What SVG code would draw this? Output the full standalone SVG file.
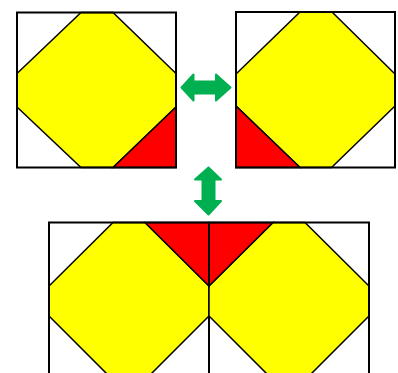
<svg xmlns="http://www.w3.org/2000/svg" width="398" height="373" viewBox="0 0 398 373">
<style>
.oct{fill:#ffff00;stroke:#000;stroke-width:1.5;stroke-linejoin:miter}
.red{fill:#ff0000;stroke:#000;stroke-width:1.5}
.box{fill:none;stroke:#000;stroke-width:2}
.arr{fill:#00b050;stroke:#00b050;stroke-width:2;stroke-linejoin:round}
</style>
<rect width="398" height="373" fill="#fff"/>
<g id="tile-left">
<rect x="17" y="12.5" width="159" height="155" fill="#fff"/>
<polygon class="oct" points="81,12.5 113,12.5 176,73.5 176,107 113,167.5 81,167.5 17,107 17,73.5"/>
<polygon class="red" points="113,167.5 176,107 176,167.5"/>
<rect class="box" x="17" y="12.5" width="159" height="155"/>
</g>
<g id="tile-right">
<rect x="236" y="12" width="159" height="155.5" fill="#fff"/>
<polygon class="oct" points="300,12 332,12 395,74 395,106 331.5,167.5 300,167.5 236,106 236,74"/>
<polygon class="red" points="236,106 236,167.5 300,167.5"/>
<rect class="box" x="236" y="12" width="159" height="155.5"/>
</g>
<g id="tile-bottom">
<polygon class="oct" points="113,222.5 145,222.5 209,286 209,316 145,380 113,380 49,316 49,286"/>
<polygon class="oct" points="273,222.5 305,222.5 369,286 369,316 305,380 273,380 209,316 209,286"/>
<polygon class="red" points="145,222.5 209,222.5 209,286"/>
<polygon class="red" points="209,222.5 273,222.5 209,286"/>
<polyline class="box" points="49,380 49,222.5 369,222.5 369,380"/>
<line class="box" x1="209" y1="222.5" x2="209" y2="286"/>
<line class="box" x1="209" y1="316" x2="209" y2="380"/>
</g>
<g id="connectors">
<polygon class="arr" points="181.5,87.5 193.5,74.5 193.5,81.5 216,81.5 216,74.5 230.5,87.5 216,100.5 216,93.5 193.5,93.5 193.5,100.5"/>
<polygon class="arr" points="208.5,167.5 221,179.5 214.5,179.5 214.5,201 221,201 208.5,214.5 195,201 202.5,201 202.5,179.5 195,179.5"/>
</g>
</svg>
